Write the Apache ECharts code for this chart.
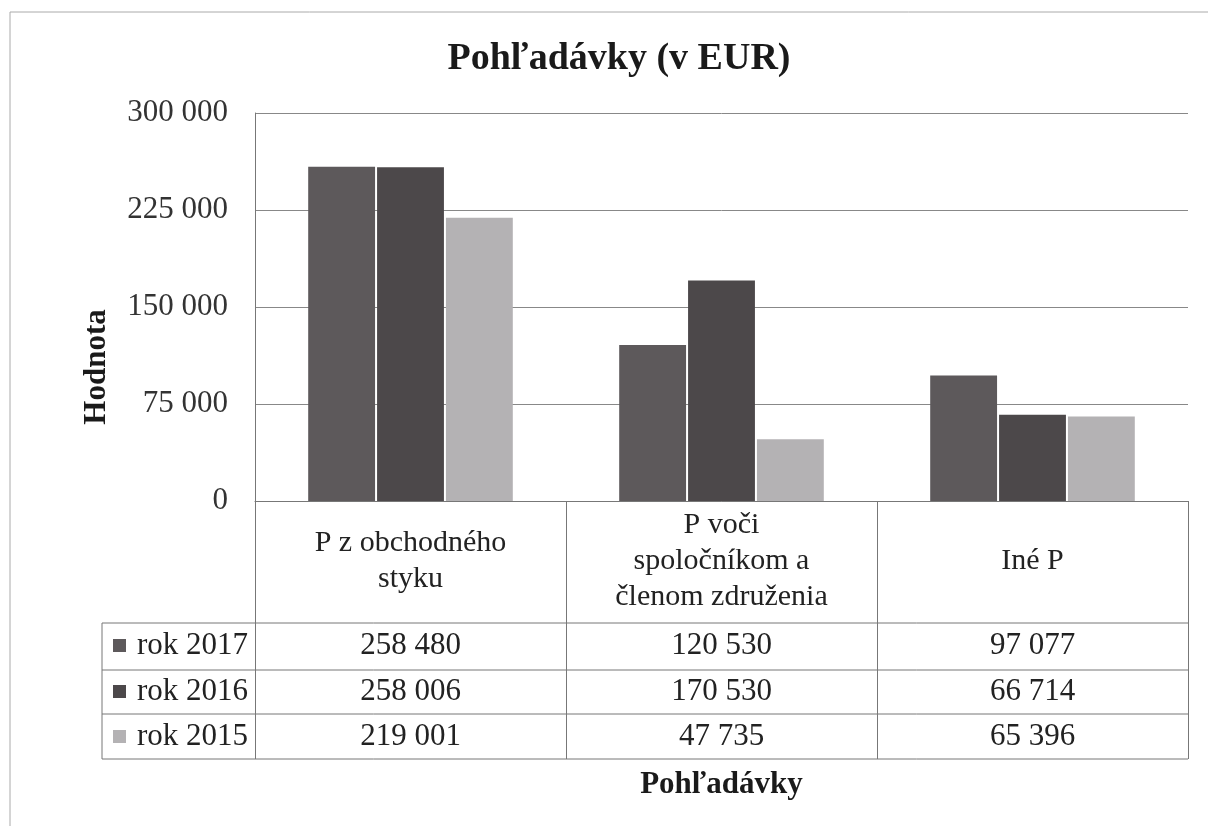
<!DOCTYPE html>
<html>
<head>
<meta charset="utf-8">
<script src="https://cdn.jsdelivr.net/npm/echarts@6/dist/echarts.min.js"></script>
<style>html,body{margin:0;padding:0;background:#fff}#c{width:1208px;height:826px}</style>
</head>
<body>
<div id="c"></div>
<script>
const categories = ['P z obchodného\nstyku', 'P voči\nspoločníkom a\nčlenom združenia', 'Iné P'];
const seriesNames = ['rok 2017', 'rok 2016', 'rok 2015'];
const rok2017 = [258480, 120530, 97077];
const rok2016 = [258006, 170530, 66714];
const rok2015 = [219001, 47735, 65396];
const yTicks = [0, 75000, 150000, 225000, 300000];

const seriesData = [rok2017, rok2016, rok2015];
const colors = ['#5d595b', '#4c484a', '#b4b2b4'];
const FONT = '"Liberation Serif", "Times New Roman", serif';
const fmt = v => String(v).replace(/\B(?=(\d{3})+(?!\d))/g, ' ');

const chart = echarts.init(document.getElementById('c'), null, {renderer: 'canvas'});
const gridLeft = 255, gridRight = 20, gridTop = 113, gridBottom = 325;

const option = {
  backgroundColor: '#fff',
  animation: false,
  title: {
    text: 'Pohľadávky (v EUR)',
    left: 614, top: 35, textAlign: 'center',
    textStyle: {fontFamily: FONT, fontSize: 38, fontWeight: 'bold', color: '#1a1a1a'}
  },
  grid: {left: gridLeft, right: gridRight, top: gridTop, bottom: gridBottom, containLabel: false},
  xAxis: {
    type: 'category',
    data: categories,
    boundaryGap: true,
    name: 'Pohľadávky',
    nameLocation: 'middle',
    nameGap: 268,
    nameTextStyle: {fontFamily: FONT, fontSize: 31, fontWeight: 'bold', color: '#1a1a1a', verticalAlign: 'top'},
    axisLine: {show: true, lineStyle: {color: '#777', width: 1}},
    axisTick: {show: true, length: 258, lineStyle: {color: '#777', width: 1}},
    axisLabel: {
      interval: 0, margin: 60, verticalAlign: 'middle',
      fontFamily: FONT, fontSize: 30, lineHeight: 36, color: '#222', align: 'center'
    },
    splitLine: {show: false}
  },
  yAxis: {
    type: 'value',
    min: 0, max: 300000, interval: 75000,
    axisLine: {show: true, lineStyle: {color: '#777', width: 1}},
    axisTick: {show: false},
    axisLabel: {
      margin: 27, fontFamily: FONT, fontSize: 31, color: '#333',
      formatter: v => yTicks.indexOf(v) >= 0 ? fmt(v) : ''
    },
    splitLine: {show: true, lineStyle: {color: '#888', width: 1}}
  },
  series: seriesData.map((d, i) => ({
    name: seriesNames[i],
    type: 'bar',
    data: d,
    barWidth: '21.5%',
    barGap: '3%',
    itemStyle: {color: colors[i]}
  }))
};
chart.setOption(option);

// Build data table graphics from the same arrays, positioned by the axis scale
const rowLines = [623, 670, 714, 759];
const rowCenters = [646, 692, 737];
const tableLeft = 102;
const tableRight = 1208 - gridRight;
const lineColor = '#777';
const els = [];
rowLines.forEach(y => {
  els.push({type: 'line', shape: {x1: tableLeft, y1: y, x2: tableRight, y2: y}, style: {stroke: lineColor, lineWidth: 1}, silent: true});
});
els.push({type: 'line', shape: {x1: tableLeft, y1: rowLines[0], x2: tableLeft, y2: rowLines[3]}, style: {stroke: lineColor, lineWidth: 1}, silent: true});
seriesNames.forEach((n, r) => {
  els.push({type: 'rect', shape: {x: 113, y: rowCenters[r] - 7, width: 13, height: 13}, style: {fill: colors[r]}, silent: true});
  els.push({type: 'text', x: 137, y: rowCenters[r], style: {text: n, font: '31px ' + FONT, fill: '#222', align: 'left', verticalAlign: 'middle'}, silent: true});
  seriesData[r].forEach((v, c) => {
    const x = chart.convertToPixel({xAxisIndex: 0}, c);
    els.push({type: 'text', x: x, y: rowCenters[r], style: {text: fmt(v), font: '31px ' + FONT, fill: '#222', align: 'center', verticalAlign: 'middle'}, silent: true});
  });
});
// y-axis title
els.push({type: 'text', x: 97, y: 367, rotation: Math.PI / 2, style: {text: 'Hodnota', font: 'bold 31px ' + FONT, fill: '#1a1a1a', align: 'center', verticalAlign: 'middle'}, silent: true});
// outer frame (left and top edges)
els.push({type: 'line', shape: {x1: 10, y1: 12, x2: 10, y2: 826}, style: {stroke: '#aaa', lineWidth: 1}, silent: true});
els.push({type: 'line', shape: {x1: 10, y1: 12, x2: 1208, y2: 12}, style: {stroke: '#aaa', lineWidth: 1}, silent: true});
chart.setOption({graphic: {elements: els}});
</script>
</body>
</html>
